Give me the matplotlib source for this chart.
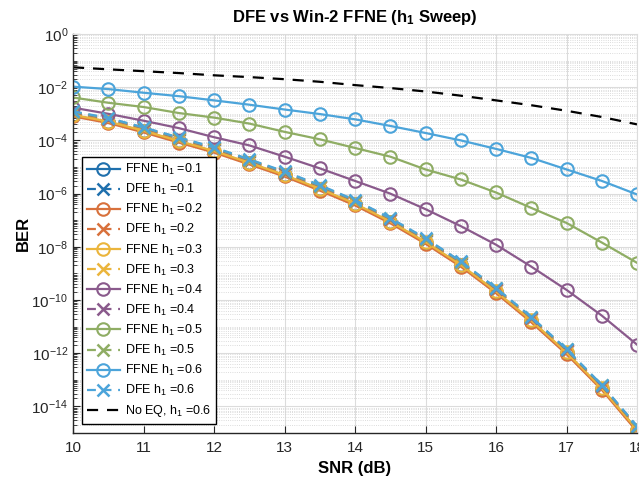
import numpy as np
import matplotlib
matplotlib.use("Agg")
import matplotlib.pyplot as plt
from matplotlib.ticker import LogLocator, NullFormatter

plt.rcParams['font.family'] = ['Liberation Sans', 'DejaVu Sans']
plt.rcParams['mathtext.fontset'] = 'custom'
plt.rcParams['mathtext.rm'] = 'Liberation Sans'
plt.rcParams['mathtext.it'] = 'Liberation Sans:italic'
plt.rcParams['mathtext.bf'] = 'Liberation Sans:bold'

snr = [10, 10.5, 11, 11.5, 12, 12.5, 13, 13.5, 14, 14.5, 15, 15.5, 16, 16.5, 17, 17.5, 18]

ffne_01 = [8.7e-4, 4.9e-4, 2.2e-4, 9.1e-5, 3.8e-5, 1.38e-5, 4.8e-6, 1.45e-6, 4.0e-7, 8.5e-8,
           1.45e-8, 2.0e-9, 2.0e-10, 1.6e-11, 1.0e-12, 4.6e-14, 1.3e-15]
dfe_01 = [1.0e-3, 5.7e-4, 2.55e-4, 1.06e-4, 4.45e-5, 1.6e-5, 5.5e-6, 1.7e-6, 4.7e-7, 9.9e-8,
          1.7e-8, 2.35e-9, 2.35e-10, 1.9e-11, 1.2e-12, 5.4e-14, 1.5e-15]
ffne_02 = [8.0e-4, 4.5e-4, 2.0e-4, 8.3e-5, 3.5e-5, 1.25e-5, 4.4e-6, 1.3e-6, 3.6e-7, 7.7e-8,
           1.3e-8, 1.8e-9, 1.8e-10, 1.45e-11, 9.2e-13, 4.2e-14, 1.15e-15]
dfe_02 = [1.05e-3, 5.9e-4, 2.65e-4, 1.1e-4, 4.6e-5, 1.65e-5, 5.7e-6, 1.76e-6, 4.85e-7, 1.02e-7,
          1.76e-8, 2.42e-9, 2.42e-10, 1.98e-11, 1.21e-12, 5.5e-14, 1.54e-15]
ffne_03 = [9.1e-4, 5.1e-4, 2.3e-4, 9.5e-5, 4.0e-5, 1.45e-5, 5.0e-6, 1.52e-6, 4.2e-7, 8.9e-8,
           1.52e-8, 2.1e-9, 2.1e-10, 1.7e-11, 1.07e-12, 4.8e-14, 1.35e-15]
dfe_03 = [1.09e-3, 6.2e-4, 2.76e-4, 1.15e-4, 4.8e-5, 1.72e-5, 6.0e-6, 1.84e-6, 5.1e-7, 1.07e-7,
          1.84e-8, 2.53e-9, 2.53e-10, 2.07e-11, 1.27e-12, 5.75e-14, 1.6e-15]
ffne_04 = [1.7e-3, 1.0e-3, 5.5e-4, 2.9e-4, 1.32e-4, 6.5e-5, 2.45e-5, 8.9e-6, 3.0e-6, 1.0e-6,
           2.6e-7, 6.0e-8, 1.2e-8, 1.8e-9, 2.4e-10, 2.6e-11, 2.1e-12]
dfe_04 = [1.14e-3, 6.5e-4, 2.9e-4, 1.2e-4, 5.0e-5, 1.8e-5, 6.2e-6, 1.92e-6, 5.3e-7, 1.12e-7,
          1.92e-8, 2.64e-9, 2.64e-10, 2.16e-11, 1.32e-12, 6.0e-14, 1.68e-15]
ffne_05 = [4.1e-3, 2.6e-3, 1.8e-3, 1.07e-3, 7.2e-4, 4.3e-4, 2.1e-4, 1.1e-4, 5.2e-5, 2.45e-5,
           8.1e-6, 3.4e-6, 1.1e-6, 2.9e-7, 7.9e-8, 1.45e-8, 2.5e-9]
dfe_05 = [1.19e-3, 6.75e-4, 3.0e-4, 1.25e-4, 5.25e-5, 1.88e-5, 6.5e-6, 2.0e-6, 5.5e-7, 1.16e-7,
          2.0e-8, 2.75e-9, 2.75e-10, 2.25e-11, 1.38e-12, 6.25e-14, 1.75e-15]
ffne_06 = [1.05e-2, 8.5e-3, 6.2e-3, 4.6e-3, 3.2e-3, 2.2e-3, 1.45e-3, 9.8e-4, 6.2e-4, 3.5e-4,
           1.9e-4, 1.0e-4, 4.8e-5, 2.2e-5, 8.1e-6, 3.0e-6, 9.3e-7]
dfe_06 = [1.24e-3, 7.0e-4, 3.1e-4, 1.3e-4, 5.5e-5, 1.95e-5, 6.8e-6, 2.1e-6, 5.7e-7, 1.21e-7,
          2.1e-8, 2.86e-9, 2.86e-10, 2.34e-11, 1.43e-12, 6.5e-14, 1.82e-15]
noeq_06 = [5.6e-2, 4.7e-2, 4.0e-2, 3.4e-2, 2.8e-2, 2.4e-2, 2.0e-2, 1.6e-2, 1.2e-2, 9.3e-3,
           6.9e-3, 4.8e-3, 3.2e-3, 2.1e-3, 1.3e-3, 7.6e-4, 4.0e-4]

h1_vals = ['0.1', '0.2', '0.3', '0.4', '0.5', '0.6']
ffne = [ffne_01, ffne_02, ffne_03, ffne_04, ffne_05, ffne_06]
dfe = [dfe_01, dfe_02, dfe_03, dfe_04, dfe_05, dfe_06]
colors = ['#1f70ad', '#d8713c', '#ebb53c', '#8a5a8c', '#8fad64', '#4ca4da']

fig = plt.figure(figsize=(6.39, 4.82), dpi=100)
ax = fig.add_axes([73 / 639, 49 / 482, 564 / 639, 399 / 482])

for h, f, d, c in zip(h1_vals, ffne, dfe, colors):
    ax.semilogy(snr, f, '-', color=c, lw=1.6, marker='o', ms=9, mfc='none', mew=1.5,
                label='FFNE h$_1$ =' + h)
    ax.semilogy(snr, d, '--', color=c, lw=1.6, marker='x', ms=9, mew=1.8,
                dashes=(4, 3), label='DFE h$_1$ =' + h)
ax.semilogy(snr, noeq_06, '--', color='black', lw=1.6, dashes=(5, 4), label='No EQ, h$_1$ =0.6')

ax.set_xlim(10, 18)
ax.set_ylim(1e-15, 1e0)
ax.set_xticks(range(10, 19))
yt = [10.0 ** (-k) for k in range(0, 15, 2)]
ax.set_yticks(yt)
ax.set_yticklabels(['10$^{%s}$' % ('0' if k == 0 else '-%d' % k) for k in range(0, 15, 2)])
ax.yaxis.set_minor_locator(LogLocator(base=10, subs=np.arange(1, 10), numticks=100))
ax.yaxis.set_minor_formatter(NullFormatter())

ax.grid(True, which='major', color='#dcdcdc', lw=0.8)
ax.grid(True, which='minor', axis='y', color='#d0d0d0', lw=0.6, ls=':')
ax.set_axisbelow(True)
ax.tick_params(which='both', direction='in', labelsize=11, colors='#262626')
ax.tick_params(which='major', length=5)
ax.tick_params(which='minor', length=3)
ax.tick_params(axis='x', pad=6)
for s in ['top', 'right']:
    ax.spines[s].set_color('#dcdcdc')
for s in ['left', 'bottom']:
    ax.spines[s].set_color('#262626')
    ax.spines[s].set_linewidth(1.0)

ax.set_xlabel('SNR (dB)', fontsize=12, fontweight='bold', labelpad=4)
ax.set_ylabel('BER', fontsize=12, fontweight='bold', labelpad=0)
ax.set_title(r'DFE vs Win-2 FFNE (h$_\mathbf{1}$ Sweep)', fontsize=12, fontweight='bold', pad=9)

leg = ax.legend(loc='lower left', bbox_to_anchor=(0.016, 0.022), fontsize=9, frameon=True,
                fancybox=False, edgecolor='black', framealpha=1, labelspacing=0.4,
                handlelength=2.6, handletextpad=0.4, borderaxespad=0, borderpad=0.4)
leg.get_frame().set_linewidth(1.0)

fig.savefig('out.png', dpi=100)
